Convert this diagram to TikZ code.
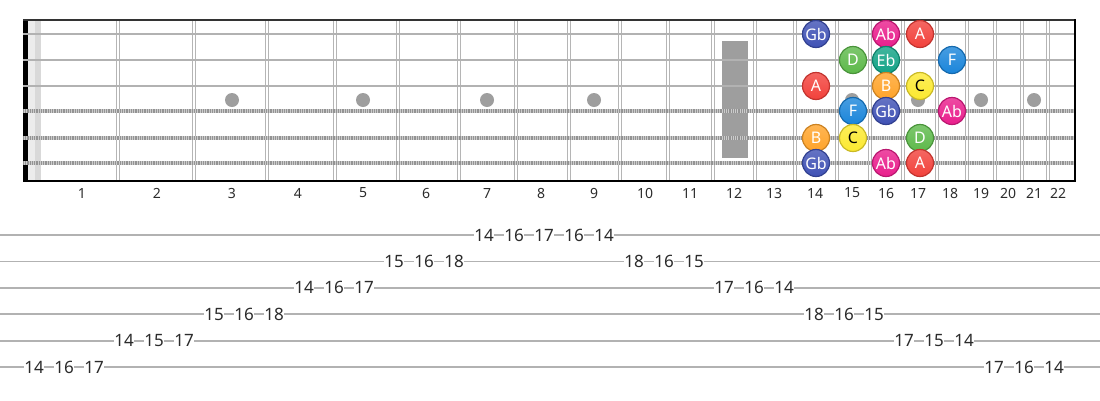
\documentclass[tikz,border=0pt]{standalone}
\usepackage{fontspec}
\setmainfont{Noto Sans}

\definecolor{gbcol}{HTML}{3F51B5}
\definecolor{abcol}{HTML}{E91E8C}
\definecolor{acol}{HTML}{F2413B}
\definecolor{dcol}{HTML}{5DB94A}
\definecolor{ebcol}{HTML}{13A386}
\definecolor{fcol}{HTML}{1A85DA}
\definecolor{bcol}{HTML}{FFA329}
\definecolor{ccol}{HTML}{FCE930}
\definecolor{wire}{HTML}{B5B5B5}
\definecolor{inlaygray}{HTML}{9E9E9E}
\definecolor{textgray}{HTML}{2B2B2B}

\tikzset{
  fretwire/.style={draw=wire, line width=1.2pt, double=white, double distance=1.8pt},
  plainstring/.style={draw=gray!60, line width=2.6pt},
  woundbase/.style={draw=gray!40, line width=3.6pt},
  woundwrap/.style={draw=gray!85, line width=3.6pt, dash pattern=on 0.9pt off 0.9pt},
  inlay/.style={fill=inlaygray},
  note/.style={circle, minimum size=27pt, inner sep=0pt, draw=#1!80!black, line width=1.2pt,
    top color=#1!80!white, bottom color=#1, text=white, font=\fontsize{16}{16}\selectfont},
  darknote/.style={note=#1, text=black},
  fretnum/.style={text=textgray, font=\fontsize{14}{14}\selectfont},
  tabline/.style={draw=gray!60, line width=1.8pt},
  tabnum/.style={fill=white, inner sep=0.6pt, text=textgray, font=\fontsize{17}{17}\selectfont}
}

\begin{document}
\begin{tikzpicture}[x=1pt, y=-1pt]
\useasboundingbox (0,0) rectangle (1100,400);

% fret wires
\foreach \fx in {118,194,267,335,398,459,516,569,620,668,713,755,795,837,870,903,937,967,995,1022,1048}
  \draw[fretwire] (\fx,19) -- (\fx,181);

% position markers
\foreach \ix in {232,363,487,594,852,918,981,1034}
  \fill[inlay] (\ix,100) circle [radius=7];
\fill[inlay] (722,41) rectangle (748,158);

% nut
\fill[gray!15] (28,20) rectangle (35,181);
\fill[gray!30] (35,20) rectangle (41,181);
\fill[black] (23,20) rectangle (28,181);

% strings
\foreach \sy in {34,60,86}
  \draw[plainstring] (23,\sy) -- (1075,\sy);
\foreach \sy in {111,138,163} {
  \draw[woundbase] (23,\sy) -- (1075,\sy);
  \draw[woundwrap] (23,\sy) -- (1075,\sy);
}

% frame
\draw[line width=2.5pt, draw=black!80] (23,20) -- (1075,20);
\draw[line width=2pt] (23,181) -- (1075,181);
\draw[line width=2.5pt] (1075,19) -- (1075,182);

% fret numbers
\foreach \n/\nx in {1/82,2/157,3/232,4/298,5/363,6/426,7/487,8/541,9/594,10/645,11/690,
    12/734,13/774,14/815,15/852,16/886,17/918,18/950,19/981,20/1008,21/1034,22/1058}
  \node[fretnum] (fn\n) at (\nx,193) {\n};

% notes, high e string
\node[note=gbcol] (e14) at (816,34) {Gb};
\node[note=abcol] (e16) at (886,34) {Ab};
\node[note=acol] (e17) at (920,34) {A};
% b string
\node[note=dcol] (b15) at (853,60) {D};
\node[note=ebcol] (b16) at (886,60) {Eb};
\node[note=fcol] (b18) at (952,60) {F};
% g string
\node[note=acol] (g14) at (816,86) {A};
\node[note=bcol] (g16) at (886,86) {B};
\node[darknote=ccol] (g17) at (920,86) {C};
% d string
\node[note=fcol] (d15) at (853,111) {F};
\node[note=gbcol] (d16) at (886,111) {Gb};
\node[note=abcol] (d18) at (952,111) {Ab};
% a string
\node[note=bcol] (a14) at (816,138) {B};
\node[darknote=ccol] (a15) at (853,138) {C};
\node[note=dcol] (a17) at (920,138) {D};
% low e string
\node[note=gbcol] (le14) at (816,163) {Gb};
\node[note=abcol] (le16) at (886,163) {Ab};
\node[note=acol] (le17) at (920,163) {A};

% tab
\foreach \ty in {235,261.4,287.8,314.2,340.6,367}
  \draw[tabline] (0,\ty) -- (1100,\ty);
\foreach \s/\f [count=\k from 0] in {6/14,6/16,6/17,5/14,5/15,5/17,4/15,4/16,4/18,3/14,3/16,3/17,
    2/15,2/16,2/18,1/14,1/16,1/17,1/16,1/14,2/18,2/16,2/15,3/17,3/16,3/14,4/18,4/16,4/15,
    5/17,5/15,5/14,6/17,6/16,6/14}
  \node[tabnum] (tab\k) at ({34+30*\k},{235+26.4*(\s-1)}) {\f};

\end{tikzpicture}
\end{document}
